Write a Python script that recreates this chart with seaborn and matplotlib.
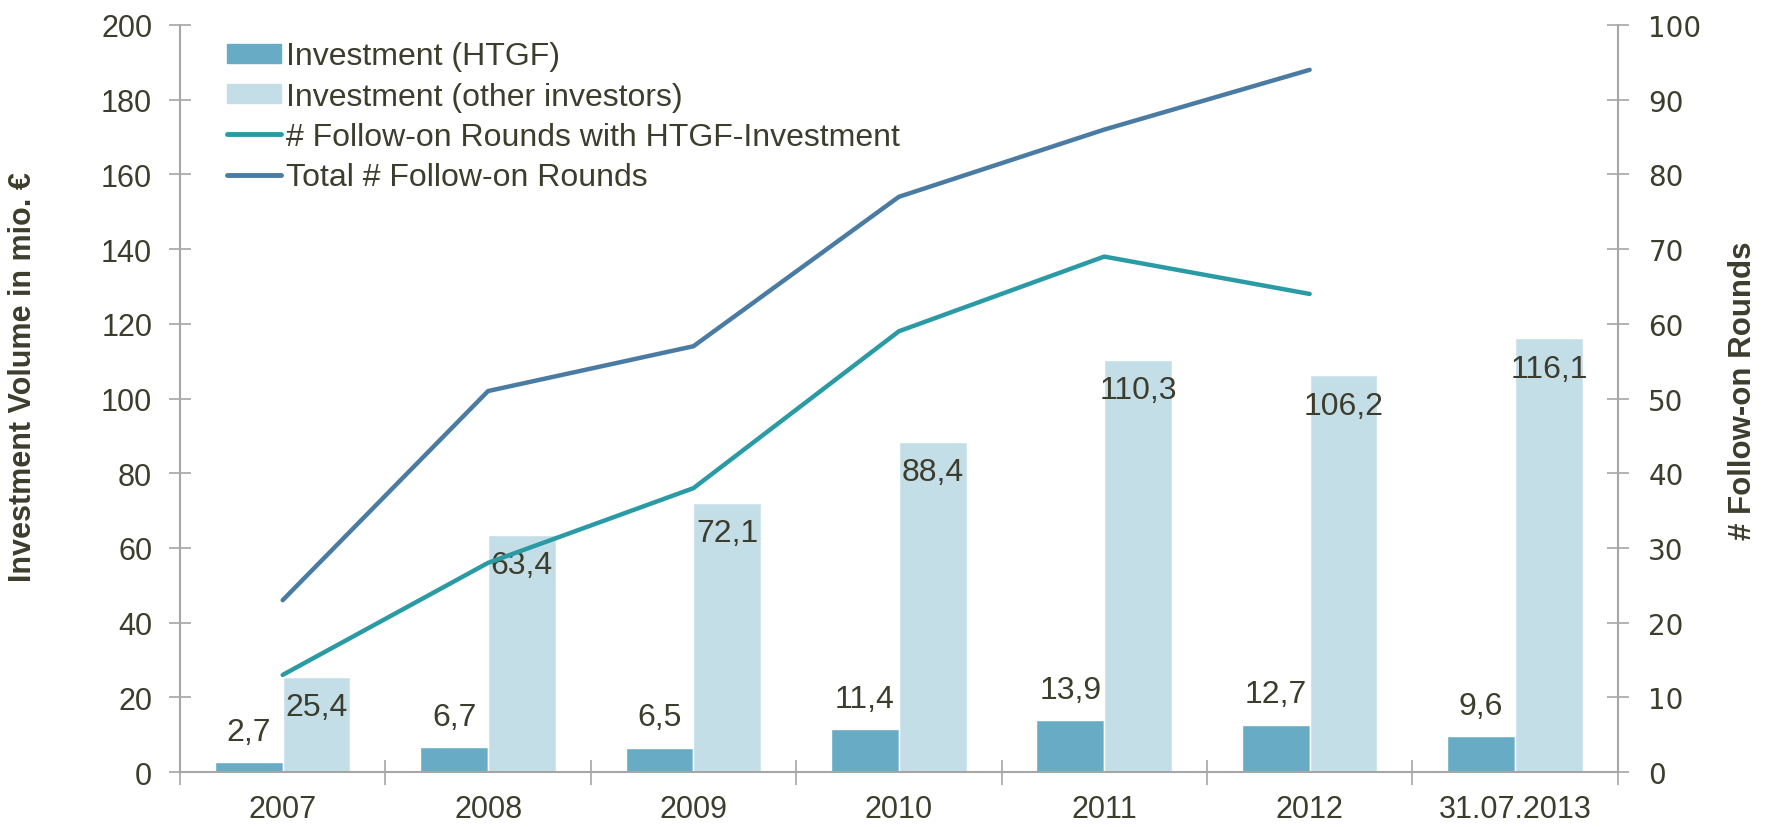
import numpy as np
import pandas as pd
import matplotlib
matplotlib.use("Agg")
import matplotlib.pyplot as plt
import seaborn as sns
from matplotlib.patches import Patch
from matplotlib.lines import Line2D

categories = ["2007", "2008", "2009", "2010", "2011", "2012", "31.07.2013"]
invHTGF = [2.7, 6.7, 6.5, 11.4, 13.9, 12.7, 9.6]
invOther = [25.4, 63.4, 72.1, 88.4, 110.3, 106.2, 116.1]
lineYears = ["2007", "2008", "2009", "2010", "2011", "2012"]
roundsHTGF = [13, 28, 38, 59, 69, 64]
roundsTotal = [23, 51, 57, 77, 86, 94]

barNames = ["Investment (HTGF)", "Investment (other investors)"]
lineNames = ["# Follow-on Rounds with HTGF-Investment", "Total # Follow-on Rounds"]

colBarDark = "#68abc4"
colBarLight = "#c4dee7"
colLineHTGF = "#2a9ba4"
colLineTotal = "#4a7ca3"
txtCol = "#3d3d2d"
axCol = "#a6a6a6"

sns.set_theme(style="white")
plt.rcParams['font.family'] = ['Liberation Sans', 'DejaVu Sans']

df = pd.DataFrame({
    "cat": categories * 2,
    "value": invHTGF + invOther,
    "series": [barNames[0]] * len(categories) + [barNames[1]] * len(categories),
})

fig = plt.figure(figsize=(17.75, 8.28), dpi=100)
ax = fig.add_axes([0.1014, 0.0664, 0.81, 0.9022])
sns.barplot(data=df, x="cat", y="value", hue="series", palette=[colBarDark, colBarLight],
            width=0.66, saturation=1, ax=ax, legend=False, errorbar=None)
ax.set_ylim(0, 200)
ax.set_xlim(-0.5, len(categories) - 0.5)
ax.set_yticks(np.arange(0, 201, 20))
ax.set_xlabel("")
ax.set_ylabel("")

# bar value labels: HTGF above the bar, others inside the top
for cont, inside in zip(ax.containers, [False, True]):
    for bar, v in zip(cont, cont.datavalues):
        lab = f"{v:.1f}".replace(".", ",")
        x = bar.get_x() + bar.get_width() / 2
        y = bar.get_height()
        if inside:
            ax.annotate(lab, (x, y), xytext=(0, -11), textcoords="offset points",
                        ha="center", va="top", fontsize=23, color=txtCol)
        else:
            ax.annotate(lab, (x, y), xytext=(0, 11), textcoords="offset points",
                        ha="center", va="bottom", fontsize=23, color=txtCol)

ax2 = ax.twinx()
xpos = np.arange(len(lineYears))
sns.lineplot(x=xpos, y=roundsHTGF, color=colLineHTGF, lw=3.2, ax=ax2, legend=False)
sns.lineplot(x=xpos, y=roundsTotal, color=colLineTotal, lw=3.2, ax=ax2, legend=False)
ax2.set_ylim(0, 100)
ax2.set_yticks(np.arange(0, 101, 10))
ax2.set_xlim(-0.5, len(categories) - 0.5)
ax2.set_ylabel("")

fig.text(23 / 1775, 1 - 377 / 828, "Investment Volume in mio. €", rotation=90, ha="center", va="center",
         fontsize=22, fontweight="bold", color=txtCol)
fig.text(1743 / 1775, 1 - 391 / 828, "# Follow-on Rounds", rotation=90, ha="center", va="center",
         fontsize=22.5, fontweight="bold", color=txtCol)

# axes styling
for a in (ax, ax2):
    for s in a.spines.values():
        s.set_visible(False)
ax.spines["left"].set_visible(True)
ax.spines["bottom"].set_visible(True)
ax2.spines["right"].set_visible(True)
for s in [ax.spines["left"], ax.spines["bottom"], ax2.spines["right"]]:
    s.set_color(axCol)
    s.set_linewidth(1.5)

ax.tick_params(axis="y", direction="inout", length=16, width=1.2, color=axCol,
               labelsize=22, labelcolor=txtCol, pad=12, left=True)
ax2.tick_params(axis="y", direction="inout", length=16, width=1.2, color=axCol,
                labelsize=20, labelcolor=txtCol, pad=14, right=True)
for t in ax2.get_yticklabels():
    t.set_fontfamily("DejaVu Sans")
ax.set_xticks(np.arange(len(categories)))
ax.set_xticklabels(categories)
ax.set_xticks(np.arange(-0.5, len(categories)), minor=True)
ax.tick_params(axis="x", which="major", length=0, labelsize=22, labelcolor=txtCol, pad=16)
ax.tick_params(axis="x", which="minor", direction="inout", length=18, width=1.2, color=axCol, bottom=True)

# legend
handles = [Patch(color=colBarDark), Patch(color=colBarLight),
           Line2D([], [], color=colLineHTGF, lw=3.5), Line2D([], [], color=colLineTotal, lw=3.5)]
leg = ax2.legend(handles, barNames + lineNames, loc="upper left", bbox_to_anchor=(0.0327, 0.978),
                 frameon=False, fontsize=23, handlelength=1.7, handleheight=0.55, handletextpad=0.15,
                 labelspacing=0.32, borderaxespad=0, borderpad=0)
for t in leg.get_texts():
    t.set_color(txtCol)

fig.savefig("out.png", dpi=100)
